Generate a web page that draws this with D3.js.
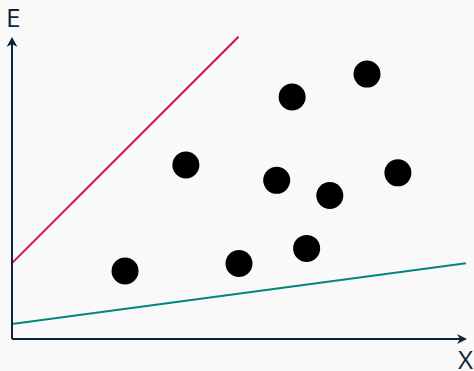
<!DOCTYPE html>
<html>
<head>
<meta charset="utf-8">
<script src="https://cdn.jsdelivr.net/npm/d3@7"></script>
<style>
  html, body { margin: 0; padding: 0; background: #f9f9f9; }
  svg { display: block; }
  text { font-family: "Open Sans", sans-serif; fill: #0f2537; }
</style>
</head>
<body>
<div id="chart"></div>
<script>
// scatter points (x, E) in chart units 0-100
const pointX = [24.9, 38.3, 50.0, 61.7, 78.2, 58.3, 70.0, 85.0, 64.9];
const pointY = [22.6, 57.8, 25.1, 80.4, 88.0, 52.7, 47.7, 55.2, 30.1];

// the two straight lines, start and end
const redLineX = [0, 49.9];
const redLineY = [25.2, 100.4];
const tealLineX = [0, 100];
const tealLineY = [5.0, 25.2];

const axisLabels = ["X", "E"];

const W = 474, H = 371;
const AXIS = "#0f2537";

const svg = d3.select("#chart")
  .append("svg")
  .attr("width", W)
  .attr("height", H);

// scales
const x = d3.scaleLinear().domain([0, 100]).range([12, 466]);
const y = d3.scaleLinear().domain([0, 100]).range([339, 38]);

const line = d3.line()
  .x((d) => x(d[0]))
  .y((d) => y(d[1]));

// red line
svg.append("path")
  .attr("d", line(d3.zip(redLineX, redLineY)))
  .attr("fill", "none")
  .attr("stroke", "#d0104c")
  .attr("stroke-width", 2);

// teal line
svg.append("path")
  .attr("d", line(d3.zip(tealLineX, tealLineY)))
  .attr("fill", "none")
  .attr("stroke", "#00897b")
  .attr("stroke-width", 2);

// dots
svg.selectAll(".dot")
  .data(d3.zip(pointX, pointY))
  .enter()
  .append("circle")
  .attr("class", "dot")
  .attr("cx", (d) => x(d[0]))
  .attr("cy", (d) => y(d[1]))
  .attr("r", 13.5)
  .attr("fill", "#000");

// axes with arrow heads
const x0 = x(0), y0 = y(0), x1 = x(100), y1 = y(100);

svg.append("path")
  .attr("d", `M${x0},${y0}H${x1 - 4}M${x0},${y0}V${y1 + 4}`)
  .attr("fill", "none")
  .attr("stroke", AXIS)
  .attr("stroke-width", 2);

// y arrow
svg.append("path")
  .attr("d", `M${x0},${y1 - 1}L${x0 - 5.5},${y1 + 9}L${x0},${y1 + 6}L${x0 + 5.5},${y1 + 9}Z`)
  .attr("fill", AXIS);

// x arrow
svg.append("path")
  .attr("d", `M${x1 + 1},${y0}L${x1 - 9},${y0 - 5}L${x1 - 6},${y0}L${x1 - 9},${y0 + 5}Z`)
  .attr("fill", AXIS);

// axis labels
svg.append("text")
  .attr("x", x0 - 6)
  .attr("y", 27)
  .attr("font-size", 26)
  .text(axisLabels[1]);

// X sits on the bottom edge, as in the reference
svg.append("text")
  .attr("x", x1 - 8)
  .attr("y", 369)
  .attr("font-size", 26)
  .text(axisLabels[0]);
</script>
</body>
</html>
